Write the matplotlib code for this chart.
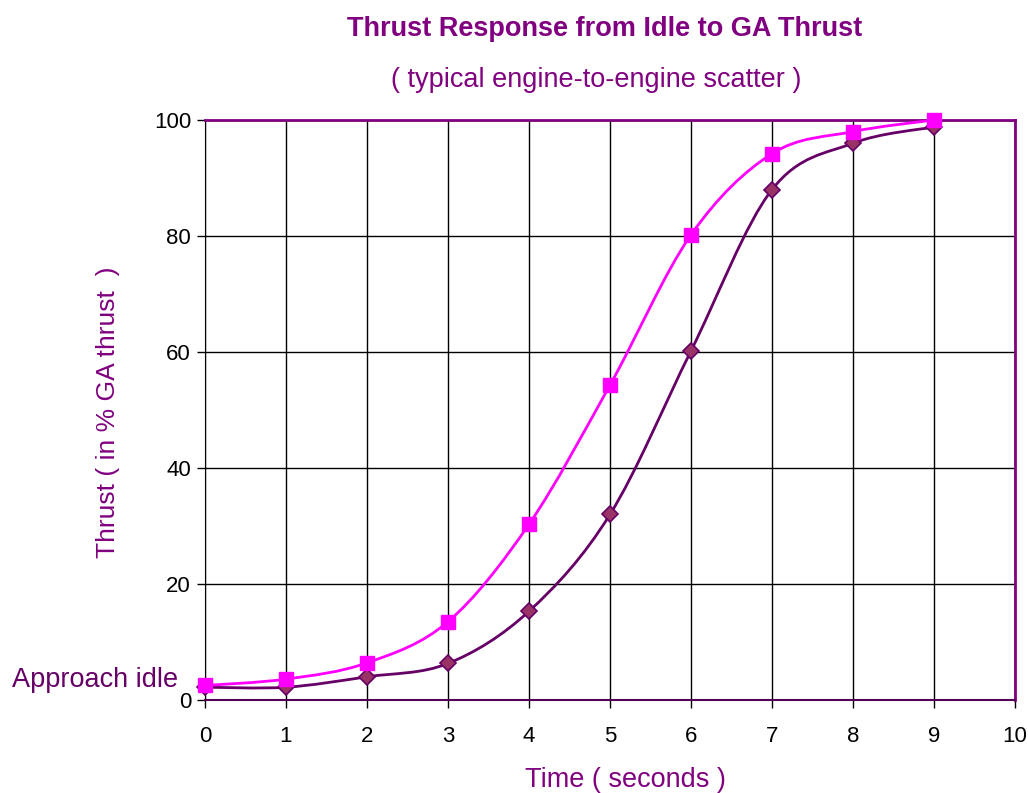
import matplotlib.pyplot as plt
import numpy as np
from matplotlib.path import Path
from matplotlib.patches import PathPatch

plt.rcParams["font.family"] = ["Liberation Sans", "DejaVu Sans"]

time_s = [0, 1, 2, 3, 4, 5, 6, 7, 8, 9]
fast_engine = [2.5, 3.6, 6.4, 13.5, 30.3, 54.3, 80.2, 94.2, 98.0, 100.0]
slow_engine = [2.2, 2.2, 4.0, 6.3, 15.3, 32.0, 60.2, 88.0, 96.0, 98.8]

MAGENTA = "#ff00ff"
PURPLE = "#660066"
TEXT = "#800080"


def smooth_path(x, y):
    # Excel style smoothed line: cubic bezier with catmull-rom control points
    p = np.column_stack([x, y]).astype(float)
    n = len(p)
    verts = [p[0]]
    codes = [Path.MOVETO]
    for i in range(n - 1):
        p0 = p[i - 1] if i > 0 else p[i]
        p3 = p[i + 2] if i + 2 < n else p[i + 1]
        c1 = p[i] + (p[i + 1] - p0) / 6
        c2 = p[i + 1] - (p3 - p[i]) / 6
        verts += [c1, c2, p[i + 1]]
        codes += [Path.CURVE4] * 3
    return Path(verts, codes)


fig = plt.figure(figsize=(10.28, 7.93), dpi=100)
ax = fig.add_axes([0.1994, 0.1173, 0.7880, 0.7314])

ax.add_patch(PathPatch(smooth_path(time_s, slow_engine), fill=False,
                       edgecolor=PURPLE, lw=2, zorder=3))
ax.add_patch(PathPatch(smooth_path(time_s, fast_engine), fill=False,
                       edgecolor=MAGENTA, lw=2, zorder=4))
ax.plot(time_s, slow_engine, ls="none", marker="D", ms=8, mfc="#993366",
        mec=PURPLE, mew=1.2, zorder=5, clip_on=False)
ax.plot(time_s, fast_engine, ls="none", marker="s", ms=10, mfc=MAGENTA,
        mec=MAGENTA, zorder=6, clip_on=False)

ax.set_xlim(0, 10)
ax.set_ylim(0, 100)
ax.set_xticks(range(0, 11))
ax.set_yticks(range(0, 101, 20))
ax.grid(True, color="black", lw=1)
ax.set_axisbelow(True)
ax.tick_params(direction="out", length=6, width=1, labelsize=16,
               colors="black")
ax.tick_params(axis="x", pad=13)
ax.tick_params(axis="y", pad=4)

ax.spines["top"].set_color(TEXT)
ax.spines["right"].set_color(TEXT)
ax.spines["top"].set_linewidth(2)
ax.spines["right"].set_linewidth(2)
ax.spines["bottom"].set_color("#550055")
ax.spines["bottom"].set_linewidth(1.5)
ax.spines["left"].set_color("black")

fig.text(0.5885, 0.964, "Thrust Response from Idle to GA Thrust", ha="center",
         va="center", fontsize=19.5, fontweight="bold", color=TEXT)
fig.text(0.580, 0.899, "( typical engine-to-engine scatter )", ha="center",
         va="center", fontsize=19.5, color=TEXT)
fig.text(0.608, 0.017, "Time ( seconds )", ha="center", va="center",
         fontsize=19.5, color=TEXT)
fig.text(0.105, 0.480, "Thrust ( in % GA thrust  )", ha="center",
         va="center", rotation=90, fontsize=19, color=TEXT)
fig.text(0.012, 0.142, "Approach idle", ha="left", va="center",
         fontsize=19.5, color=PURPLE)

fig.savefig("out.png", dpi=100, facecolor="white")
